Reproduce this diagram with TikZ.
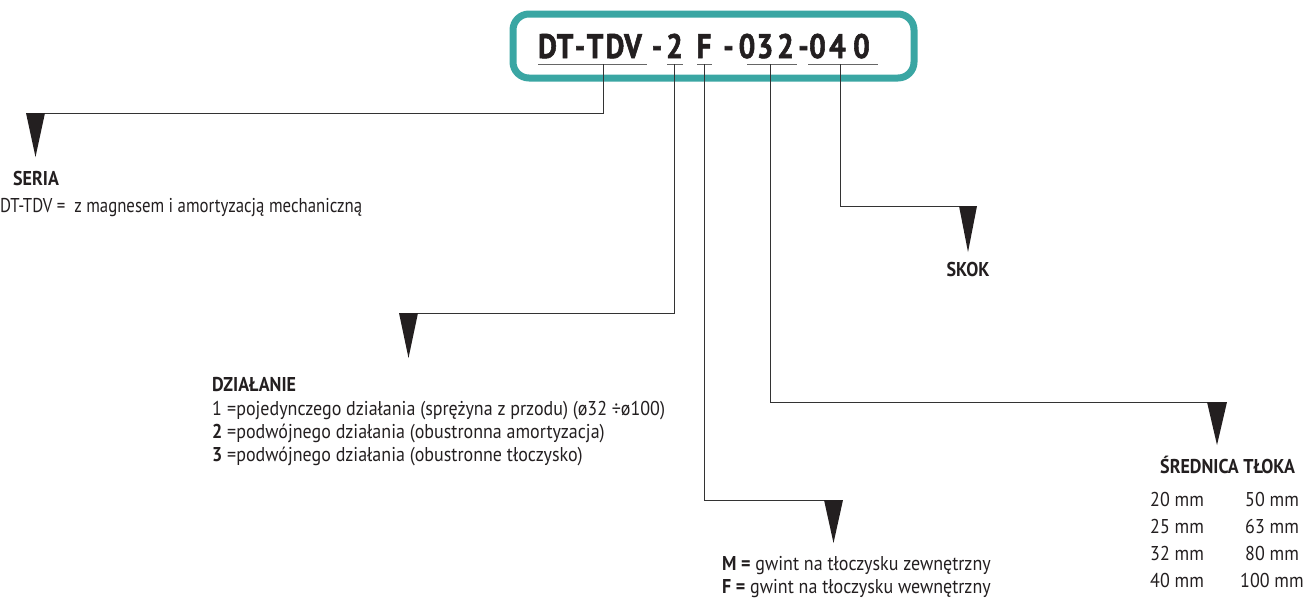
\documentclass[tikz,border=0pt]{standalone}
\usepackage{fontspec}
\setmainfont{PT Sans}[FakeStretch=0.90]
\newfontfamily\narrowfont{PT Sans}[FakeStretch=0.84]
\newfontfamily\codefont{PT Sans}[FakeStretch=0.86, BoldFeatures={FakeBold=1.6}]
\definecolor{boxteal}{RGB}{58,166,163}
\definecolor{ink}{RGB}{35,31,32}
\begin{document}
\begin{tikzpicture}[x=1pt,y=-1pt,
  txt/.style={anchor=base west, inner sep=0pt, text=ink, font=\fontsize{20}{22}\selectfont},
  txtb/.style={txt, font=\fontsize{20}{22}\selectfont\bfseries},
  codech/.style={anchor=base, inner sep=0pt, text=ink, font=\codefont\fontsize{34}{36}\selectfont\bfseries},
  uline/.style={draw=black!60, line width=1pt},
  conn/.style={draw=black!80, line width=0.9pt},
  wedge/.style={fill=ink}]
\useasboundingbox (0,0) rectangle (1305,598);
% code box
\draw[boxteal, line width=7pt, rounded corners=16pt] (513,14) rectangle (914,78);
\foreach \c/\x [count=\i] in {D/547.5, T/565, -/580, T/595, D/615, V/633, -/657, 2/674.5, F/704, -/728.5, 0/747, 3/765, 2/785.5, -/803.5, 0/817.5, 4/837.5, 0/861.5}
  \node[codech] (c\i) at (\x,58) {\c};
% underlines
\draw[uline] (538,64) -- (647,64);
\draw[uline] (667,64) -- (683,64);
\draw[uline] (697,64) -- (712,64);
\draw[uline] (747,64) -- (797,64);
\draw[uline] (808,64) -- (878,64);
% connector origins
\coordinate (u1) at (603,64);
\coordinate (u2) at (674.5,64);
\coordinate (u3) at (704,64);
\coordinate (u4) at (770,64);
\coordinate (u5) at (840,64);
% arrow tops (centre)
\coordinate (a1) at (35.5,113);
\coordinate (a2) at (408.5,313);
\coordinate (a3) at (833.5,500);
\coordinate (a4) at (1217,402);
\coordinate (a5) at (968,206);
\foreach \i in {1,...,5} \draw[conn] (u\i) |- (a\i);
\fill[wedge] (a1) ++(-9.5,0) -- ++(19,0) -- ++(-9.5,44) -- cycle;
\fill[wedge] (a2) ++(-9.5,0) -- ++(19,0) -- ++(-9.5,45) -- cycle;
\fill[wedge] (a3) ++(-9.5,0) -- ++(19,0) -- ++(-9.5,43) -- cycle;
\fill[wedge] (a4) ++(-10,0) -- ++(20,0) -- ++(-10,43) -- cycle;
\fill[wedge] (a5) ++(-9,0) -- ++(18,0) -- ++(-9,46) -- cycle;
% SERIA
\node[txtb] (seria) at (13,185) {SERIA};
\node[txt, font=\narrowfont\fontsize{20}{22}\selectfont] (seriad) at (0,212) {DT-TDV =\ \ z magnesem i amortyzacją mechaniczną};
% SKOK
\node[txtb, anchor=base] (skok) at (968,276) {SKOK};
% DZIALANIE
\node[txtb] (dzial) at (212,391) {DZIAŁANIE};
\node[txt] (n1) at (212,415) {1};
\node[txt] (d1) at (227,415) {=pojedynczego działania (sprężyna z przodu) (ø32 ÷ø100)};
\node[txtb] (n2) at (212,438) {2};
\node[txt] (d2) at (227,438) {=podwójnego działania (obustronna amortyzacja)};
\node[txtb] (n3) at (212,461) {3};
\node[txt] (d3) at (227,461) {=podwójnego działania (obustronne tłoczysko)};
% gwint
\node[txt] (gm) at (722,570) {\textbf{M =} gwint na tłoczysku zewnętrzny};
\node[txt] (gf) at (722,593) {\textbf{F =} gwint na tłoczysku wewnętrzny};
% srednica
\node[txtb] (sr) at (1160,473) {ŚREDNICA TŁOKA};
\node[txt] (s1) at (1150,506) {20 mm};
\node[txt] (s2) at (1150,533) {25 mm};
\node[txt] (s3) at (1150,560) {32 mm};
\node[txt] (s4) at (1150,587) {40 mm};
\node[txt] (s5) at (1245,506) {50 mm};
\node[txt] (s6) at (1245,533) {63 mm};
\node[txt] (s7) at (1245,560) {80 mm};
\node[txt] (s8) at (1240,587) {100 mm};
\end{tikzpicture}
\end{document}
